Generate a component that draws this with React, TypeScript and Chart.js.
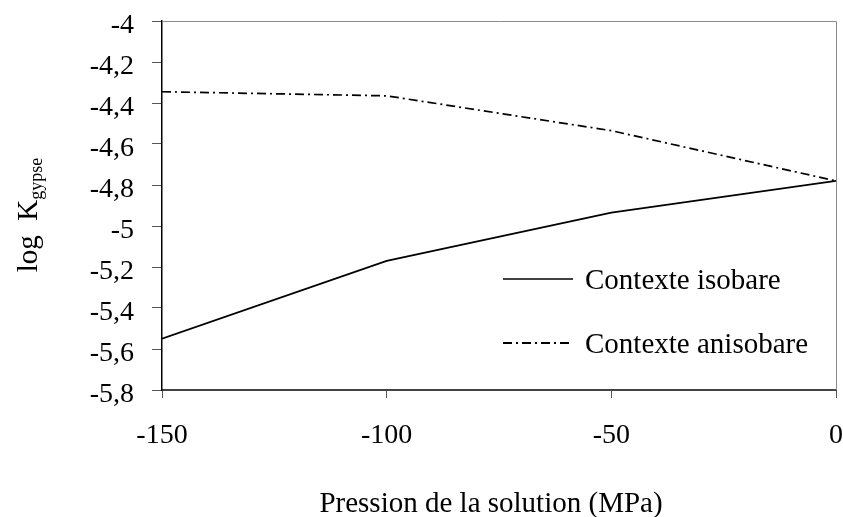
import React, { useEffect, useRef } from "react";
import { Chart, registerables } from "chart.js";

Chart.register(...registerables);

const pressures = [-150, -100, -50, 0];
const isobare = [-5.55, -5.17, -4.935, -4.78];
const anisobare = [-4.345, -4.365, -4.535, -4.78];
const seriesLabels = ["Contexte isobare", "Contexte anisobare"];
const xTitle = "Pression de la solution (MPa)";
const yTitleMain = "log  K";
const yTitleSub = "gypse";

const FONT = "'Liberation Serif', 'Times New Roman', serif";

const fmt = (v: number) => {
  const n = Number(Number(v).toFixed(1));
  return String(n).replace(".", ",");
};

const zeroPad = (s: any) => {
  s.paddingTop = 0;
  s.paddingBottom = 0;
  s.paddingLeft = 0;
  s.paddingRight = 0;
};

const decorPlugin = {
  id: "decor",
  afterDraw(chart: any) {
    const { ctx, chartArea } = chart;
    const { left, right, top, bottom } = chartArea;
    ctx.save();
    // top and right border
    ctx.strokeStyle = "#8a8a8a";
    ctx.lineWidth = 1;
    ctx.beginPath();
    ctx.moveTo(left, top + 0.5);
    ctx.lineTo(right + 0.5, top + 0.5);
    ctx.lineTo(right + 0.5, bottom);
    ctx.stroke();

    // legend
    const items = [
      { y: 279, dash: [] as number[], w: 1.6 },
      { y: 343, dash: [9, 4, 2, 4], w: 1.8 },
    ];
    chart.data.datasets.forEach((ds: any, i: number) => {
      const it = items[i];
      ctx.strokeStyle = "#000";
      ctx.lineWidth = it.w;
      ctx.setLineDash(it.dash);
      ctx.beginPath();
      ctx.moveTo(503, it.y);
      ctx.lineTo(573, it.y);
      ctx.stroke();
      ctx.setLineDash([]);
      ctx.fillStyle = "#000";
      ctx.font = `29px ${FONT}`;
      ctx.textBaseline = "alphabetic";
      ctx.textAlign = "left";
      ctx.fillText(ds.label, 585, it.y + 10);
    });

    // x title
    ctx.font = `29px ${FONT}`;
    ctx.textAlign = "center";
    ctx.textBaseline = "alphabetic";
    ctx.fillStyle = "#000";
    ctx.fillText(xTitle, 491, 512);

    // y title with subscript
    ctx.translate(37, 215);
    ctx.rotate(-Math.PI / 2);
    ctx.font = `29px ${FONT}`;
    const w1 = ctx.measureText(yTitleMain).width;
    ctx.font = `18px ${FONT}`;
    const w2 = ctx.measureText(yTitleSub).width;
    const start = -(w1 + w2) / 2;
    ctx.textAlign = "left";
    ctx.font = `29px ${FONT}`;
    ctx.fillText(yTitleMain, start, 0);
    ctx.font = `18px ${FONT}`;
    ctx.fillText(yTitleSub, start + w1, 5);
    ctx.restore();
  },
};

export default function App() {
  const ref = useRef<HTMLCanvasElement>(null);
  useEffect(() => {
    document.body.style.margin = "0";
    const chart = new Chart(ref.current as HTMLCanvasElement, {
      type: "line",
      data: {
        datasets: [
          {
            label: seriesLabels[0],
            data: pressures.map((x, i) => ({ x, y: isobare[i] })),
            borderColor: "#000",
            borderWidth: 1.7,
            pointRadius: 0,
            tension: 0,
          },
          {
            label: seriesLabels[1],
            data: pressures.map((x, i) => ({ x, y: anisobare[i] })),
            borderColor: "#000",
            borderWidth: 1.7,
            borderDash: [9, 4, 2, 4],
            pointRadius: 0,
            tension: 0,
          },
        ],
      },
      options: {
        animation: false,
        responsive: false,
        maintainAspectRatio: false,
        layout: { padding: { left: 0, right: 7, top: 21, bottom: 0 } },
        plugins: { legend: { display: false }, tooltip: { enabled: false } },
        scales: {
          x: {
            type: "linear",
            min: -150,
            max: 0,
            afterFit: (s: any) => {
              s.height = 127;
              zeroPad(s);
            },
            ticks: {
              stepSize: 50,
              color: "#000",
              font: { family: FONT, size: 28 },
              padding: 21,
              maxRotation: 0,
              callback: (v: any) => String(v),
            },
            grid: {
              display: true,
              drawOnChartArea: false,
              drawTicks: true,
              tickLength: 8,
              color: "#555",
            },
            border: { display: true, color: "#444", width: 2 },
          },
          y: {
            type: "linear",
            min: -5.8,
            max: -4,
            afterFit: (s: any) => {
              s.width = 162;
              zeroPad(s);
            },
            ticks: {
              stepSize: 0.2,
              color: "#000",
              font: { family: FONT, size: 28 },
              padding: 18,
              labelOffset: 5,
              callback: (v: any) => fmt(v),
            },
            grid: {
              display: true,
              drawOnChartArea: false,
              drawTicks: true,
              tickLength: 10,
              color: "#555",
            },
            border: { display: true, color: "#000", width: 1.5 },
          },
        },
      },
      plugins: [decorPlugin],
    } as any);
    return () => chart.destroy();
  }, []);
  return (
    <div style={{ width: 843, height: 517, background: "#fff" }}>
      <canvas ref={ref} width={843} height={517} style={{ display: "block" }} />
    </div>
  );
}
